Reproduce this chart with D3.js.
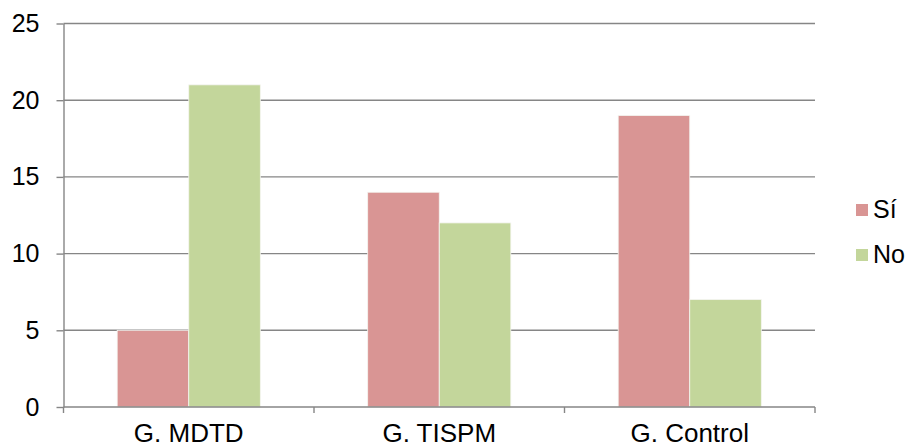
<!DOCTYPE html>
<html>
<head>
<meta charset="utf-8">
<script src="https://cdn.jsdelivr.net/npm/d3@7"></script>
<style>
  html, body { margin: 0; padding: 0; background: #fff; }
  svg { display: block; font-family: "Liberation Sans", Arial, sans-serif; }
</style>
</head>
<body>
<svg id="chart" width="911" height="448"></svg>
<script>
// Chart data
const categories = ["G. MDTD", "G. TISPM", "G. Control"];
const seriesNames = ["Sí", "No"];
const siValues = [5, 14, 19];
const noValues = [21, 12, 7];
const yTicks = [0, 5, 10, 15, 20, 25];
const seriesColors = ["#d99594", "#c3d69b"];

const series = [siValues, noValues];

const svg = d3.select("#chart");
const margin = { left: 63.5, right: 96, top: 23.5, bottom: 41 };
const W = 911, H = 448;
const plotW = W - margin.left - margin.right;
const plotH = H - margin.top - margin.bottom;

const g = svg.append("g").attr("transform", `translate(${margin.left},${margin.top})`);

const x = d3.scaleBand().domain(categories).range([0, plotW]).paddingInner(0).paddingOuter(0);
const xInner = d3.scaleBand().domain(seriesNames).range([0, x.bandwidth()]).paddingInner(0).paddingOuter(0.75);
const y = d3.scaleLinear().domain([0, 25]).range([plotH, 0]);

const gridColor = "#868686";

// Horizontal gridlines
g.append("g")
  .selectAll("line")
  .data(yTicks.filter(d => d > 0))
  .join("line")
  .attr("x1", 0).attr("x2", plotW)
  .attr("y1", d => y(d)).attr("y2", d => y(d))
  .attr("stroke", gridColor).attr("stroke-width", 1.4);

// Bars
categories.forEach((cat, ci) => {
  seriesNames.forEach((s, si) => {
    const v = series[si][ci];
    g.append("rect")
      .attr("x", x(cat) + xInner(s))
      .attr("y", y(v))
      .attr("width", xInner.bandwidth())
      .attr("height", y(0) - y(v))
      .attr("fill", seriesColors[si])
      .attr("stroke", "#f4f4f0")
      .attr("stroke-width", 0.8);
  });
});

// Y axis
const yAxis = g.append("g")
  .call(d3.axisLeft(y).tickValues(yTicks).tickSize(7).tickPadding(17).tickSizeOuter(0));
yAxis.select(".domain").attr("stroke", gridColor).attr("stroke-width", 1.4);
yAxis.selectAll(".tick line").attr("stroke", gridColor).attr("stroke-width", 1.4);
yAxis.selectAll(".tick text")
  .attr("fill", "#000").attr("font-size", "25px")
  .attr("font-family", "Liberation Sans, Arial, sans-serif");

// X axis with tick marks at category boundaries
const xAxisG = g.append("g").attr("transform", `translate(0,${plotH})`);
xAxisG.append("line")
  .attr("x1", 0).attr("x2", plotW).attr("y1", 0).attr("y2", 0)
  .attr("stroke", gridColor).attr("stroke-width", 1.4);
const boundaries = categories.map(c => x(c)).concat([plotW]);
xAxisG.selectAll("line.b")
  .data(boundaries)
  .join("line")
  .attr("class", "b")
  .attr("x1", d => d).attr("x2", d => d)
  .attr("y1", 0).attr("y2", 6)
  .attr("stroke", gridColor).attr("stroke-width", 1.4);
xAxisG.selectAll("text")
  .data(categories)
  .join("text")
  .attr("x", d => x(d) + x.bandwidth() / 2)
  .attr("y", 35)
  .attr("text-anchor", "middle")
  .attr("font-size", "26px")
  .attr("fill", "#000")
  .text(d => d);

// Legend
const legend = svg.append("g").attr("transform", "translate(856,204)");
seriesNames.forEach((s, i) => {
  const row = legend.append("g").attr("transform", `translate(0,${i * 45})`);
  row.append("rect").attr("width", 12).attr("height", 12).attr("fill", seriesColors[i]);
  row.append("text")
    .attr("x", 17).attr("y", 14)
    .attr("font-size", "25px").attr("fill", "#000")
    .text(s);
});
</script>
</body>
</html>
